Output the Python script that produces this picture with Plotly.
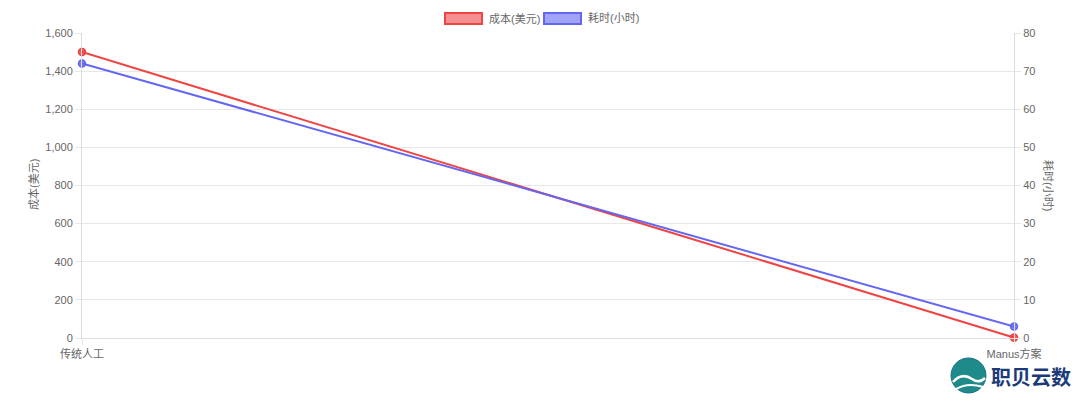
import plotly.graph_objects as go

categories = ["传统人工", "Manus方案"]
cost_usd = [1500, 2]
time_hours = [72, 3]

cost_name = "成本(美元)"
time_name = "耗时(小时)"

RED = "rgb(239,68,68)"
RED_FILL = "rgba(239,68,68,0.6)"
BLUE = "rgb(99,102,241)"
BLUE_FILL = "rgba(99,102,241,0.6)"
FONT = "Liberation Sans, Noto Sans CJK SC, sans-serif"
TICK_COLOR = "#666666"
GRID = "#e8e8e8"
FS = 11

# page body has an 8px margin: shift everything accordingly
OFF = 8
L, R, T, B = 82, 1014, 33, 338  # plot area in screenshot pixels

fig = go.Figure()
fig.add_trace(go.Scatter(
    x=categories, y=cost_usd, name=cost_name, mode="lines+markers",
    line=dict(color=RED, width=2),
    marker=dict(size=7, color="rgba(239,68,68,0.85)", line=dict(color=RED, width=1.5)),
    yaxis="y", showlegend=False, cliponaxis=False,
))
fig.add_trace(go.Scatter(
    x=categories, y=time_hours, name=time_name, mode="lines+markers",
    line=dict(color=BLUE, width=2),
    marker=dict(size=7, color="rgba(99,102,241,0.85)", line=dict(color=BLUE, width=1.5)),
    yaxis="y2", showlegend=False, cliponaxis=False,
))

axis_common = dict(
    showline=True, linecolor="#dddddd", linewidth=1,
    ticks="outside", ticklen=6, tickcolor=GRID,
    tickfont=dict(family=FONT, size=FS, color=TICK_COLOR),
    zeroline=False,
)

W, H = 1080 - OFF, 402 - OFF
fig.update_layout(
    width=W, height=H,
    margin=dict(l=L - OFF, r=OFF + W - R, t=T - OFF, b=OFF + H - B, autoexpand=False),
    paper_bgcolor="white", plot_bgcolor="white",
    font=dict(family=FONT, size=FS, color=TICK_COLOR),
    xaxis=dict(type="category", range=[0, 1], showgrid=True, gridcolor=GRID, **axis_common),
    yaxis=dict(range=[0, 1600], dtick=200, tickformat=",", showgrid=True, gridcolor=GRID, **axis_common),
    yaxis2=dict(range=[0, 80], dtick=10, overlaying="y", side="right", showgrid=False, **axis_common),
    showlegend=False,
)

def px_x(px):
    return (px - L) / (R - L)

def px_y(py):
    return (B - py) / (B - T)

anns = []
shapes = []

anns.append(dict(x=px_x(33), y=px_y(185), xref="paper", yref="paper", text=cost_name, showarrow=False,
                 xanchor="center", yanchor="middle",
                 textangle=-90, font=dict(family=FONT, size=FS, color=TICK_COLOR)))
anns.append(dict(x=px_x(1048), y=px_y(185), xref="paper", yref="paper", text=time_name, showarrow=False,
                 xanchor="center", yanchor="middle",
                 textangle=90, font=dict(family=FONT, size=FS, color=TICK_COLOR)))

# Legend (Chart.js style boxes)
legend_items = [(cost_name, RED, RED_FILL, 445), (time_name, BLUE, BLUE_FILL, 544)]
for label, border, fill, x0 in legend_items:
    shapes.append(dict(type="rect", xref="paper", yref="paper",
                       x0=px_x(x0), x1=px_x(x0 + 37), y0=px_y(24), y1=px_y(13),
                       line=dict(color=border, width=2), fillcolor=fill))
    anns.append(dict(x=px_x(x0 + 42), y=px_y(18.5), xref="paper", yref="paper", text=label,
                     showarrow=False, xanchor="left", yanchor="middle",
                     font=dict(family=FONT, size=FS, color=TICK_COLOR)))

# Watermark logo
shapes.append(dict(type="circle", xref="paper", yref="paper",
                   x0=px_x(951), x1=px_x(986), y0=px_y(393), y1=px_y(358),
                   line=dict(color="#1d6f8a", width=1), fillcolor="#1f8a8a"))
shapes.append(dict(type="path", xref="paper", yref="paper",
                   path="M {} {} Q {} {} {} {} Q {} {} {} {}".format(
                       px_x(953), px_y(382), px_x(962), px_y(372), px_x(972), px_y(379),
                       px_x(979), px_y(384), px_x(985), px_y(378)),
                   line=dict(color="white", width=2.5)))
shapes.append(dict(type="path", xref="paper", yref="paper",
                   path="M {} {} Q {} {} {} {}".format(
                       px_x(956), px_y(389), px_x(968), px_y(382), px_x(983), px_y(387)),
                   line=dict(color="white", width=2)))
anns.append(dict(x=px_x(989), y=px_y(376), xref="paper", yref="paper", text="<b>职贝云数</b>",
                 showarrow=False, xanchor="left", yanchor="middle",
                 font=dict(family="Noto Sans CJK SC, sans-serif", size=20, color="#1b3a78")))

fig.update_layout(annotations=anns, shapes=shapes)

fig.write_html("out.html")
